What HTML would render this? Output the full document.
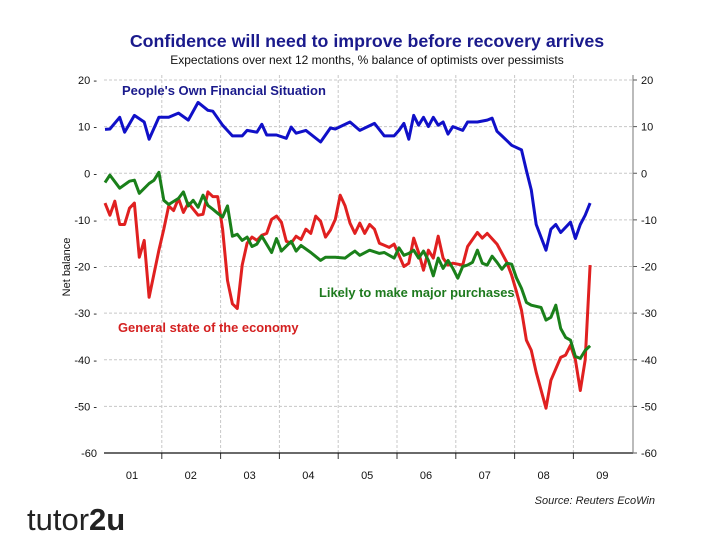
<!DOCTYPE html>
<html><head><meta charset="utf-8"><style>
body{margin:0;background:#fff;}
svg{display:block;font-family:"Liberation Sans",Arial,sans-serif;}
</style></head><body>
<svg id="chart" width="720" height="540" viewBox="0 0 720 540" xmlns="http://www.w3.org/2000/svg">
<text x="367" y="47" text-anchor="middle" font-size="17.8" font-weight="bold" fill="#1a1a8c">Confidence will need to improve before recovery arrives</text>
<text x="367" y="64" text-anchor="middle" font-size="12" fill="#111">Expectations over next 12  months, % balance of optimists over pessimists</text>
<text transform="translate(70,267) rotate(-90)" text-anchor="middle" font-size="11" fill="#111">Net balance</text>
<g id="grid"></g>
<g id="axes"></g>
<g id="series"></g>
<text x="122" y="95" font-size="13" font-weight="bold" fill="#1a1a8c">People's Own Financial Situation</text>
<text x="319" y="297" font-size="12.9" font-weight="bold" fill="#1e7a1e">Likely to make major purchases</text>
<text x="118" y="332" font-size="12.9" font-weight="bold" fill="#d42020">General state of the economy</text>
<text x="655" y="504" text-anchor="end" font-size="11" font-style="italic" fill="#222">Source: Reuters EcoWin</text>
<text x="27" y="530" font-size="31" fill="#222" letter-spacing="0">tutor<tspan font-weight="bold">2u</tspan></text>
</svg>
<script>
const yTicks=[20,10,0,-10,-20,-30,-40,-50,-60];
const yearLabels=["01","02","03","04","05","06","07","08","09"];
const blueMonths=[0,1,3,4,6,8,9,11,13,15,17,19,21,22,24,26,28,29,31,32,33,35,37,38,39,41,44,46,47,50,52,55,57,59,60,61,62,63,64,65,66,67,68,69,70,71,73,74,76,78,79,80,81,82,83,85,86,87,88,90,91,92,93,95,96,97,98,99];
const blueValues=[9.4,9.5,12,8.8,12.4,11,7.3,12,12,12.9,11.4,15.2,13.5,13.3,10.3,8,8,9.2,8.8,10.5,8.2,8.2,7.5,9.9,8.6,9.2,6.7,9.7,9.5,11,9.2,10.7,8,8,9.2,10.7,7.3,12.4,10.3,12,10,12,10.3,11,8.4,10,9.2,11,11,11.4,11.8,9,8,7,6,5,0.6,-3.6,-11,-16.5,-12,-11,-12.7,-10.5,-14,-11,-9,-6.4];
const redMonths=[0,1,2,3,4,5,6,7,8,9,11,12,13,14,15,16,17,19,20,21,22,23,24,25,26,27,28,29,30,31,32,33,34,35,36,37,38,39,40,41,42,43,44,45,46,47,48,49,50,51,52,53,54,55,56,58,59,60,61,62,63,64,65,66,67,68,69,70,71,73,74,76,77,78,80,82,83,84,85,86,87,88,90,91,93,94,95,96,97,98,99];
const redValues=[-6.4,-9,-6,-11,-11,-7.5,-6.4,-18,-14.4,-26.6,-16.5,-12,-7,-8,-5.4,-8.4,-6.4,-9,-8.8,-4,-5,-5,-12,-23,-28,-29,-19.7,-15,-13.7,-14.4,-13.3,-12.9,-9.9,-9.2,-10.5,-14.6,-15,-13.5,-14.2,-12,-12.9,-9.2,-10.3,-13.7,-12.2,-9.9,-4.7,-7,-10.7,-12.9,-10.7,-12.9,-11,-12,-15,-15.9,-15.2,-17.6,-20,-19.3,-13.9,-17,-20.8,-16.5,-18.2,-13.5,-18.2,-19.7,-19.3,-19.7,-15.7,-12.7,-13.9,-12.9,-15.2,-19.1,-21.9,-25.5,-29.4,-35.8,-38,-42.7,-50.4,-44.4,-39.5,-39,-36.9,-40,-46.6,-40,-19.7];
const greenMonths=[0,1,3,5,6,7,9,10,11,12,13,15,16,17,18,19,20,21,22,23,24,25,26,27,28,29,30,31,32,34,35,36,38,39,40,42,44,45,47,49,50,51,52,54,56,57,59,60,61,62,63,64,65,66,67,68,69,70,71,72,73,74,75,76,77,78,79,80,81,82,83,84,85,86,87,89,90,91,92,93,94,95,96,97,98,99];
const greenValues=[-2,-0.4,-3.2,-1.7,-1.5,-4.3,-2.2,-1.5,0.2,-5.8,-6.7,-5.4,-4,-7,-5.8,-7.3,-4.7,-6.9,-7.7,-8.6,-9.4,-7,-13.5,-13.1,-14.4,-13.7,-15.7,-15.2,-13.5,-17,-14,-16.7,-14.6,-16.7,-15.5,-17,-18.7,-18,-18,-18.2,-17.4,-16.7,-17.6,-16.5,-17.2,-17,-18.2,-16,-17.6,-17.2,-16.5,-18.2,-16.7,-18.7,-22,-18.2,-20.4,-18.7,-20.4,-22.5,-20,-19.7,-19.1,-16.5,-19.3,-19.7,-17.8,-19.1,-20.6,-19.3,-19.5,-22.5,-24.7,-27.7,-28.3,-28.8,-31.5,-30.9,-28.3,-33.3,-35.2,-35.8,-39.3,-39.7,-38,-37];

const NS="http://www.w3.org/2000/svg";
const L=104,R=633,T=80,B=453;
function yS(v){return T+(20-v)*(B-T)/80;}
function xS(m){return 105+m*4.9;}
function yearX(i){return 103+i*58.8;}
function mk(tag,attrs,parent){const e=document.createElementNS(NS,tag);for(const k in attrs)e.setAttribute(k,attrs[k]);parent.appendChild(e);return e;}
const grid=document.getElementById('grid'),axes=document.getElementById('axes'),series=document.getElementById('series');
yTicks.forEach(v=>{
  const y=yS(v);
  if(v>-60){const g=mk('line',{x1:L,x2:R,y1:y,y2:y,stroke:'#c8c8c8','stroke-dasharray':'3,2','stroke-width':1},grid);
  
  }
  const t=mk('text',{x:97,y:y+4,'text-anchor':'end','font-size':11,fill:'#111'},axes);
  t.textContent=v+(v>-60?' -':'');
  
  
  const t2=mk('text',{x:641,y:y+4,'font-size':11,fill:'#111'},axes);
  t2.textContent=v;
  
  
  const tk=mk('line',{x1:R,x2:R+4,y1:y,y2:y,stroke:'#555'},axes);
  
  
});
yearLabels.forEach((lab,i)=>{
  if(i>0){const x=yearX(i);
    const g=mk('line',{x1:x,x2:x,y1:T-5,y2:B,stroke:'#c8c8c8','stroke-dasharray':'3,2'},grid);
    
    
    const tk=mk('line',{x1:x,x2:x,y1:B,y2:B+6,stroke:'#333'},axes);
    
    }
  const t=mk('text',{x:yearX(i)+29,y:479,'text-anchor':'middle','font-size':11,fill:'#111'},axes);
  t.textContent=lab;
  
  
});
const ax=mk('line',{x1:L,x2:R,y1:B,y2:B,stroke:'#111','stroke-width':1.3},axes);


const ra=mk('line',{x1:R,x2:R,y1:T-5,y2:B,stroke:'#777'},axes);


function draw(ms,vs,col,name){
  const d=ms.map((m,i)=>(i?'L':'M')+xS(m).toFixed(1)+','+yS(vs[i]).toFixed(1)).join(' ');
  const p=mk('path',{d:d,fill:'none',stroke:col,'stroke-width':3,'stroke-linejoin':'round'},series);
  
  
}
draw(redMonths,redValues,'#e02020','economy-line');
draw(greenMonths,greenValues,'#1a801a','purchases-line');
draw(blueMonths,blueValues,'#1010c8','financial-situation-line');
</script>
</body></html>
